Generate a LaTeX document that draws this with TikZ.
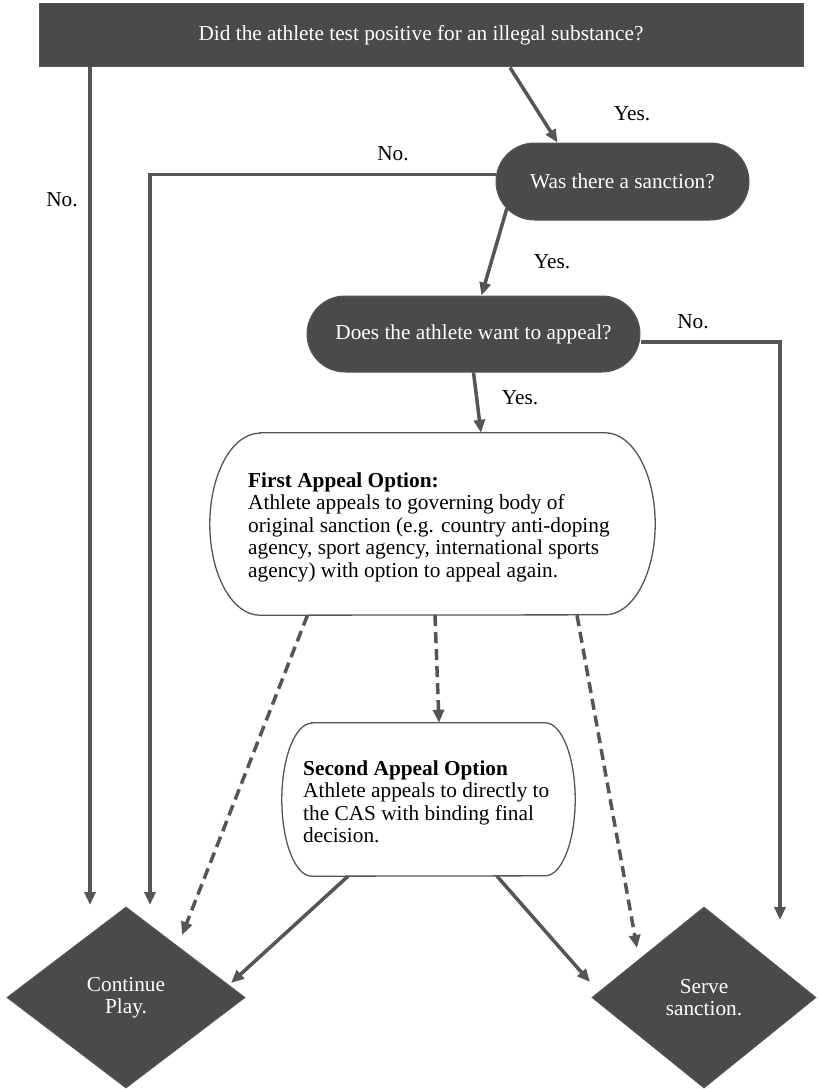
\documentclass[tikz,border=0pt]{standalone}
\usepackage{fontspec}
\setmainfont{Liberation Serif}
\usetikzlibrary{arrows.meta,shapes.geometric}
\definecolor{darkfill}{HTML}{4A4A4A}
\definecolor{linegray}{HTML}{555555}
\begin{document}
\begin{tikzpicture}[x=1pt,y=-1pt,
  every node/.style={font=\fontsize{21.3}{22.5}\selectfont},
  darkbox/.style={fill=darkfill,draw=linegray,line width=1pt,text=white,inner sep=0pt},
  stadium/.style={darkbox,rounded corners=#1},
  decision/.style={diamond,darkbox,align=center},
  lbl/.style={text=black,inner sep=0pt},
  outline/.style={draw=linegray,line width=1.3pt},
  arr/.style={draw=linegray,line width=3.5pt,-{Triangle[length=13pt,width=11pt]}},
  darr/.style={arr,dash pattern=on 11pt off 6pt}
]
\useasboundingbox (0,0) rectangle (817,1089);

% main nodes
\node[darkbox,minimum width=764pt,minimum height=63pt] (q1) at (421,35.5) {Did the athlete test positive for an illegal substance?};
\node[stadium=38.5pt,minimum width=253pt,minimum height=77pt] (sq) at (622.5,181.5) {Was there a sanction?};
\node[stadium=38pt,minimum width=333pt,minimum height=76pt] (ap) at (473.5,334) {Does the athlete want to appeal?};

\node[minimum width=445pt,minimum height=182pt,inner sep=0pt] (fa) at (432.5,524) {};
\draw[outline] ([xshift=50pt]fa.north west) -- ([xshift=-50pt]fa.north east)
  arc[start angle=90,end angle=-90,x radius=50pt,y radius=91pt]
  -- ([xshift=50pt]fa.south west)
  arc[start angle=270,end angle=90,x radius=50pt,y radius=91pt] -- cycle;
\node[anchor=west,align=left,inner sep=0pt] (fat) at (248,527) {\textbf{First Appeal Option:}\\Athlete appeals to governing body of\\original sanction (e.g. country anti-doping\\agency, sport agency, international sports\\agency) with option to appeal again.};

\node[minimum width=293pt,minimum height=153pt,inner sep=0pt] (sa) at (428.5,799.5) {};
\draw[outline] ([xshift=30pt]sa.north west) -- ([xshift=-30pt]sa.north east)
  arc[start angle=90,end angle=-90,x radius=30pt,y radius=76.5pt]
  -- ([xshift=30pt]sa.south west)
  arc[start angle=270,end angle=90,x radius=30pt,y radius=76.5pt] -- cycle;
\node[anchor=west,align=left,inner sep=0pt] (sat) at (303,802) {\textbf{Second Appeal Option}\\Athlete appeals to directly to\\the CAS with binding final\\decision.};

\node[decision,minimum width=238pt,minimum height=181pt] (cp) at (126,997.5) {Continue\\Play.};
\node[decision,minimum width=224pt,minimum height=181pt] (ss) at (704,997.5) {Serve\\sanction.};

% labels
\node[lbl] (l1) at (62,200) {No.};
\node[lbl] (l2) at (632,114) {Yes.};
\node[lbl] (l3) at (393,154) {No.};
\node[lbl] (l4) at (552,262) {Yes.};
\node[lbl] (l5) at (693,322) {No.};
\node[lbl] (l6) at (520,398) {Yes.};

% free ends
\coordinate (e1) at (90,905);
\coordinate (e2) at (150,905);
\coordinate (e3) at (780,920);
\coordinate (e4) at (182,935);
\coordinate (e5) at (637,948);
\coordinate (e6) at (231,983);
\coordinate (e7) at (590,982);

% connectors
\draw[arr] ([xshift=89pt]q1.south) -- ([xshift=-65pt]sq.north);
\draw[arr] (q1.south -| e1) -- (e1);
\draw[arr] ([yshift=7pt]sq.west) -| (e2);
\draw[arr] ([xshift=-115.5pt,yshift=-26.5pt]sq.center) -- ([xshift=8pt]ap.north);
\draw[arr] ([yshift=-8pt]ap.east) -| (e3);
\draw[arr] (ap.south) -- ([xshift=48.5pt]fa.north);
\draw[darr] ([xshift=-125pt]fa.south) -- (e4);
\draw[darr] ([xshift=2.5pt]fa.south) -- ([xshift=10.5pt]sa.north);
\draw[darr] ([xshift=144.5pt]fa.south) -- (e5);
\draw[arr] ([xshift=-80.5pt]sa.south) -- (e6);
\draw[arr] ([xshift=68.5pt]sa.south) -- (e7);
\end{tikzpicture}
\end{document}
